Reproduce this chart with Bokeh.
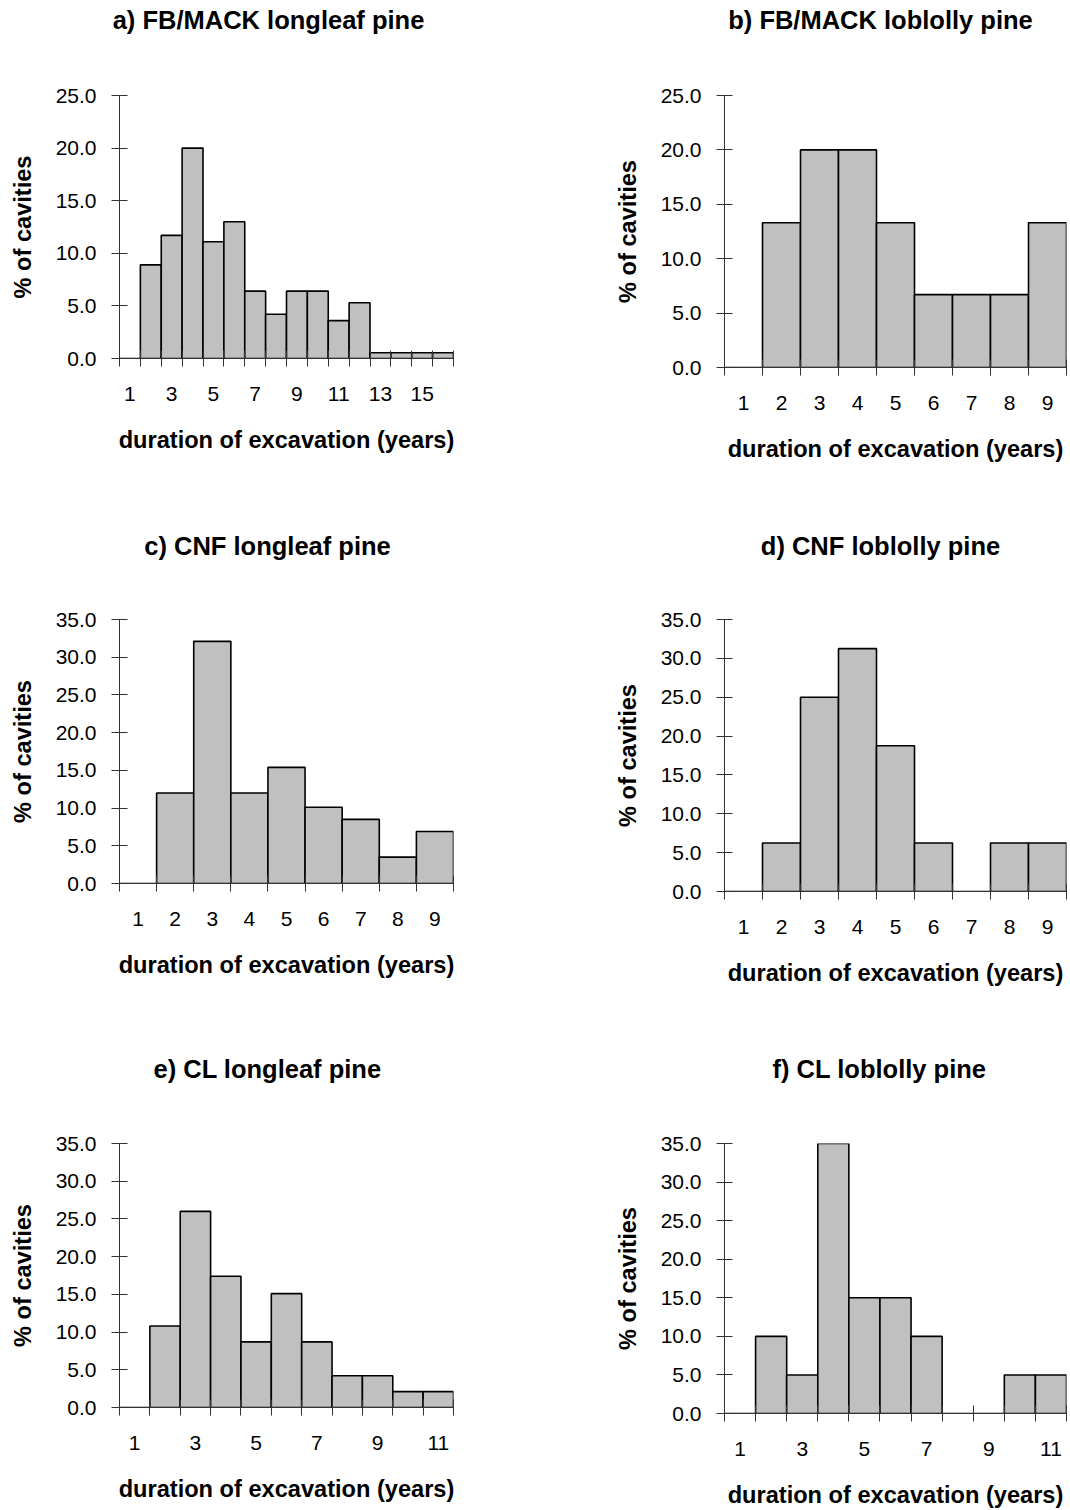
from bokeh.plotting import figure
from bokeh.models import Range1d, FixedTicker, NumeralTickFormatter
from bokeh.core.properties import value
from bokeh.layouts import column, row
from bokeh.embed import file_html
from bokeh.resources import INLINE

# ---- data ----
titles = ["a) FB/MACK longleaf pine", "b) FB/MACK loblolly pine",
          "c) CNF longleaf pine", "d) CNF loblolly pine",
          "e) CL longleaf pine", "f) CL loblolly pine"]

years_a = list(range(1, 17))
pct_a = [0, 8.9, 11.7, 20.0, 11.1, 13.0, 6.4, 4.2, 6.4, 6.4, 3.6, 5.3, 0.55, 0.55, 0.55, 0.55]
years_b = list(range(1, 10))
pct_b = [0, 13.3, 20.0, 20.0, 13.3, 6.7, 6.7, 6.7, 13.3]
years_c = list(range(1, 10))
pct_c = [0, 12.0, 32.1, 12.0, 15.4, 10.1, 8.5, 3.5, 6.9]
years_d = list(range(1, 10))
pct_d = [0, 6.25, 25.0, 31.25, 18.75, 6.25, 0, 6.25, 6.25]
years_e = list(range(1, 12))
pct_e = [0, 10.8, 26.0, 17.4, 8.7, 15.1, 8.7, 4.2, 4.2, 2.1, 2.1]
years_f = list(range(1, 12))
pct_f = [0, 10.0, 5.0, 35.0, 15.0, 15.0, 10.0, 0, 0, 5.0, 5.0]

xlab_a = [1, 3, 5, 7, 9, 11, 13, 15]
xlab_9 = [1, 2, 3, 4, 5, 6, 7, 8, 9]
xlab_11 = [1, 3, 5, 7, 9, 11]
yt_25 = [0, 5, 10, 15, 20, 25]
yt_35 = [0, 5, 10, 15, 20, 25, 30, 35]

x_title = "duration of excavation (years)"
y_title = "% of cavities"

FONT = "Liberation Sans"
AXC = "#333333"
W = 535
TH = 50  # height of the strip holding each panel title


def title_strip(text, cx, cy):
    t = figure(width=W, height=TH, x_range=Range1d(0, W), y_range=Range1d(0, TH),
               toolbar_location=None, output_backend="svg", tools="",
               x_axis_type=None, y_axis_type=None,
               min_border_left=0, min_border_right=0, min_border_top=0, min_border_bottom=0)
    t.outline_line_color = None
    t.background_fill_color = "white"
    t.border_fill_color = "white"
    t.xgrid.grid_line_color = None
    t.ygrid.grid_line_color = None
    t.text(x=[cx], y=[TH - cy], text=[text], text_align="center", text_baseline="middle",
           text_font=value(FONT), text_font_style="bold", text_font_size="25.5px",
           text_color="black")
    return row(t, spacing=0)


def panel(years, pct, ymax, yticks, xlabels, H, left, right, top, bottom):
    n = len(years)
    p = figure(width=W, height=H, x_range=Range1d(0.5, n + 0.5), y_range=Range1d(0, ymax),
               toolbar_location=None, output_backend="svg", tools="",
               min_border_left=left, min_border_right=right,
               min_border_top=top, min_border_bottom=bottom)
    p.outline_line_color = None
    p.xgrid.grid_line_color = None
    p.ygrid.grid_line_color = None
    p.background_fill_color = "white"
    p.border_fill_color = "white"

    p.vbar(x=years, top=pct, width=1, fill_color="#c0c0c0", line_color="black", line_width=1.6)

    xa = p.below[0]
    xa.ticker = FixedTicker(ticks=xlabels, minor_ticks=[y - 0.5 for y in years] + [years[-1] + 0.5])
    xa.major_tick_line_color = None
    xa.major_tick_out = 8
    xa.major_tick_in = 0
    xa.minor_tick_line_color = AXC
    xa.minor_tick_in = 8
    xa.minor_tick_out = 8
    xa.axis_line_color = AXC
    xa.major_label_standoff = 20
    xa.major_label_text_font = FONT
    xa.major_label_text_font_size = "21px"
    xa.major_label_text_color = "black"
    xa.axis_label = x_title
    xa.axis_label_text_font = FONT
    xa.axis_label_text_font_style = "bold"
    xa.axis_label_text_font_size = "23.6px"
    xa.axis_label_text_color = "black"
    xa.axis_label_standoff = 23

    ya = p.left[0]
    ya.ticker = FixedTicker(ticks=yticks, minor_ticks=[])
    ya.formatter = NumeralTickFormatter(format="0.0")
    ya.major_tick_line_color = AXC
    ya.major_tick_in = 8
    ya.major_tick_out = 8
    ya.minor_tick_line_color = None
    ya.axis_line_color = AXC
    ya.major_label_standoff = 15
    ya.major_label_text_font = FONT
    ya.major_label_text_font_size = "21px"
    ya.major_label_text_color = "black"
    ya.axis_label = y_title
    ya.axis_label_text_font = FONT
    ya.axis_label_text_font_style = "bold"
    ya.axis_label_text_font_size = "23.6px"
    ya.axis_label_text_color = "black"
    ya.axis_label_standoff = 17
    return p


pa = panel(years_a, pct_a, 25, yt_25, xlab_a, 470, 119, 82, 45, 162)
pb = panel(years_b, pct_b, 25, yt_25, xlab_9, 470, 189, 4, 45, 153)
pc = panel(years_c, pct_c, 35, yt_35, xlab_9, 470, 119, 82, 49, 157)
pd_ = panel(years_d, pct_d, 35, yt_35, xlab_9, 470, 189, 4, 49, 149)
pe = panel(years_e, pct_e, 35, yt_35, xlab_11, 420, 119, 82, 53, 103)
pf = panel(years_f, pct_f, 35, yt_35, xlab_11, 420, 189, 4, 53, 95)

left_col = column(title_strip(titles[0], 268, 19), pa,
                  title_strip(titles[2], 267, 25), pc,
                  title_strip(titles[4], 267, 28), pe, spacing=0)
right_col = column(title_strip(titles[1], 345, 19), pb,
                   title_strip(titles[3], 345, 25), pd_,
                   title_strip(titles[5], 344, 28), pf, spacing=0)
layout = row(left_col, right_col, spacing=0)

open("out.html", "w").write(file_html(layout, INLINE))
